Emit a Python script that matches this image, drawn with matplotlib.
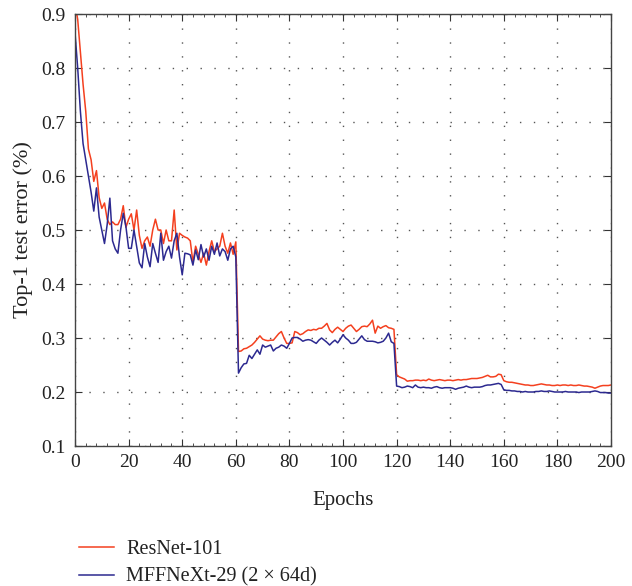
import matplotlib.pyplot as plt
import numpy as np
from matplotlib.ticker import MultipleLocator

plt.rcParams['font.family'] = ['Liberation Serif', 'DejaVu Serif']

# top-1 test error per epoch (0..200)
resnet = [
    0.920, 0.890, 0.830, 0.770, 0.720, 0.650, 0.630, 0.590, 0.610, 0.560,
    0.540, 0.550, 0.520, 0.510, 0.515, 0.510, 0.510, 0.520, 0.545, 0.505,
    0.520, 0.530, 0.500, 0.537, 0.490, 0.466, 0.480, 0.487, 0.470, 0.500,
    0.520, 0.500, 0.500, 0.475, 0.500, 0.480, 0.480, 0.537, 0.463, 0.494,
    0.490, 0.487, 0.485, 0.480, 0.440, 0.470, 0.455, 0.440, 0.457, 0.435,
    0.460, 0.480, 0.460, 0.465, 0.470, 0.494, 0.470, 0.457, 0.476, 0.455,
    0.478, 0.275, 0.276, 0.280, 0.281, 0.284, 0.287, 0.292, 0.298, 0.304,
    0.298, 0.296, 0.295, 0.296, 0.296, 0.302, 0.308, 0.312, 0.300, 0.290,
    0.290, 0.291, 0.312, 0.310, 0.306, 0.308, 0.312, 0.315, 0.314, 0.316,
    0.315, 0.318, 0.318, 0.322, 0.327, 0.315, 0.310, 0.316, 0.320, 0.316,
    0.312, 0.318, 0.322, 0.324, 0.318, 0.312, 0.316, 0.321, 0.322, 0.321,
    0.326, 0.333, 0.309, 0.322, 0.318, 0.321, 0.323, 0.319, 0.318, 0.316,
    0.232, 0.228, 0.226, 0.224, 0.220, 0.221, 0.221, 0.222, 0.222, 0.221,
    0.222, 0.221, 0.224, 0.222, 0.221, 0.222, 0.223, 0.222, 0.221, 0.222,
    0.222, 0.221, 0.222, 0.223, 0.222, 0.223, 0.223, 0.224, 0.225, 0.225,
    0.225, 0.226, 0.227, 0.229, 0.231, 0.228, 0.228, 0.229, 0.233, 0.232,
    0.221, 0.219, 0.218, 0.218, 0.217, 0.216, 0.215, 0.214, 0.213, 0.213,
    0.212, 0.212, 0.213, 0.214, 0.215, 0.214, 0.213, 0.213, 0.212, 0.212,
    0.213, 0.212, 0.213, 0.213, 0.212, 0.213, 0.212, 0.212, 0.213, 0.212,
    0.211, 0.211, 0.210, 0.209, 0.207, 0.209, 0.211, 0.212, 0.212, 0.212,
    0.213,
]

mffnext = [
    0.865, 0.800, 0.720, 0.660, 0.630, 0.600, 0.570, 0.535, 0.578, 0.524,
    0.500, 0.475, 0.510, 0.559, 0.480, 0.465, 0.457, 0.500, 0.531, 0.506,
    0.466, 0.466, 0.500, 0.470, 0.439, 0.430, 0.475, 0.450, 0.432, 0.475,
    0.457, 0.440, 0.494, 0.444, 0.460, 0.470, 0.448, 0.480, 0.494, 0.450,
    0.417, 0.457, 0.456, 0.454, 0.435, 0.463, 0.445, 0.473, 0.450, 0.465,
    0.444, 0.470, 0.455, 0.476, 0.452, 0.465, 0.460, 0.444, 0.465, 0.470,
    0.450, 0.235, 0.245, 0.252, 0.253, 0.268, 0.262, 0.270, 0.278, 0.270,
    0.287, 0.283, 0.285, 0.287, 0.276, 0.281, 0.283, 0.287, 0.285, 0.281,
    0.290, 0.300, 0.301, 0.301, 0.298, 0.294, 0.296, 0.297, 0.296, 0.293,
    0.290, 0.296, 0.300, 0.296, 0.292, 0.287, 0.292, 0.296, 0.291, 0.298,
    0.306, 0.300, 0.296, 0.290, 0.290, 0.292, 0.298, 0.304, 0.297, 0.294,
    0.294, 0.294, 0.293, 0.291, 0.292, 0.294, 0.300, 0.309, 0.293, 0.290,
    0.211, 0.210, 0.208, 0.209, 0.211, 0.210, 0.208, 0.213, 0.209, 0.208,
    0.209, 0.208, 0.208, 0.207, 0.209, 0.210, 0.208, 0.207, 0.208, 0.208,
    0.208, 0.207, 0.205, 0.207, 0.208, 0.209, 0.211, 0.209, 0.208, 0.209,
    0.209, 0.209, 0.210, 0.212, 0.213, 0.213, 0.214, 0.215, 0.216, 0.214,
    0.204, 0.203, 0.203, 0.202, 0.202, 0.201, 0.201, 0.200, 0.201, 0.200,
    0.200, 0.200, 0.201, 0.201, 0.202, 0.201, 0.201, 0.202, 0.201, 0.200,
    0.200, 0.200, 0.200, 0.201, 0.200, 0.200, 0.200, 0.200, 0.199, 0.200,
    0.200, 0.200, 0.200, 0.201, 0.202, 0.201, 0.199, 0.199, 0.199, 0.198,
    0.198,
]

epochs = np.arange(len(resnet))

fig = plt.figure(figsize=(6.32, 5.86), dpi=100)
ax = fig.add_axes([0.1187, 0.2389, 0.8481, 0.7372])

ax.plot(epochs, resnet, color='#f4401f', lw=1.1, label='ResNet-101')
ax.plot(epochs, mffnext, color='#2c2990', lw=1.1, label='MFFNeXt-29 (2 \u00d7 64d)')

ax.set_xlim(0, 200)
ax.set_ylim(0.1, 0.9)
ax.xaxis.set_major_locator(MultipleLocator(20))
ax.xaxis.set_minor_locator(MultipleLocator(4))
ax.yaxis.set_major_locator(MultipleLocator(0.1))
ax.grid(True, color='#555555', linestyle=(0, (1, 9)), lw=1.0)
ax.tick_params(which='both', direction='in', top=True, right=True,
               labelsize=14, colors='#333333', labelcolor='#222222')
ax.tick_params(which='major', length=5)
ax.tick_params(which='minor', length=2.5)
ax.tick_params(axis='y', pad=7)
ax.tick_params(axis='x', pad=6)
for s in ax.spines.values():
    s.set_color('#444444')
    s.set_linewidth(1.0)

ax.set_xlabel('Epochs', fontsize=15, color='#222222', labelpad=14)
ax.set_ylabel('Top-1 test error (%)', fontsize=16, color='#222222', labelpad=6)

fig.legend(loc='upper left', bbox_to_anchor=(0.112, 0.093), frameon=False,
           fontsize=14.5, handlelength=1.75, handletextpad=0.6, labelspacing=0.45,
           borderaxespad=0, labelcolor='#222222')

plt.savefig('out.png')
